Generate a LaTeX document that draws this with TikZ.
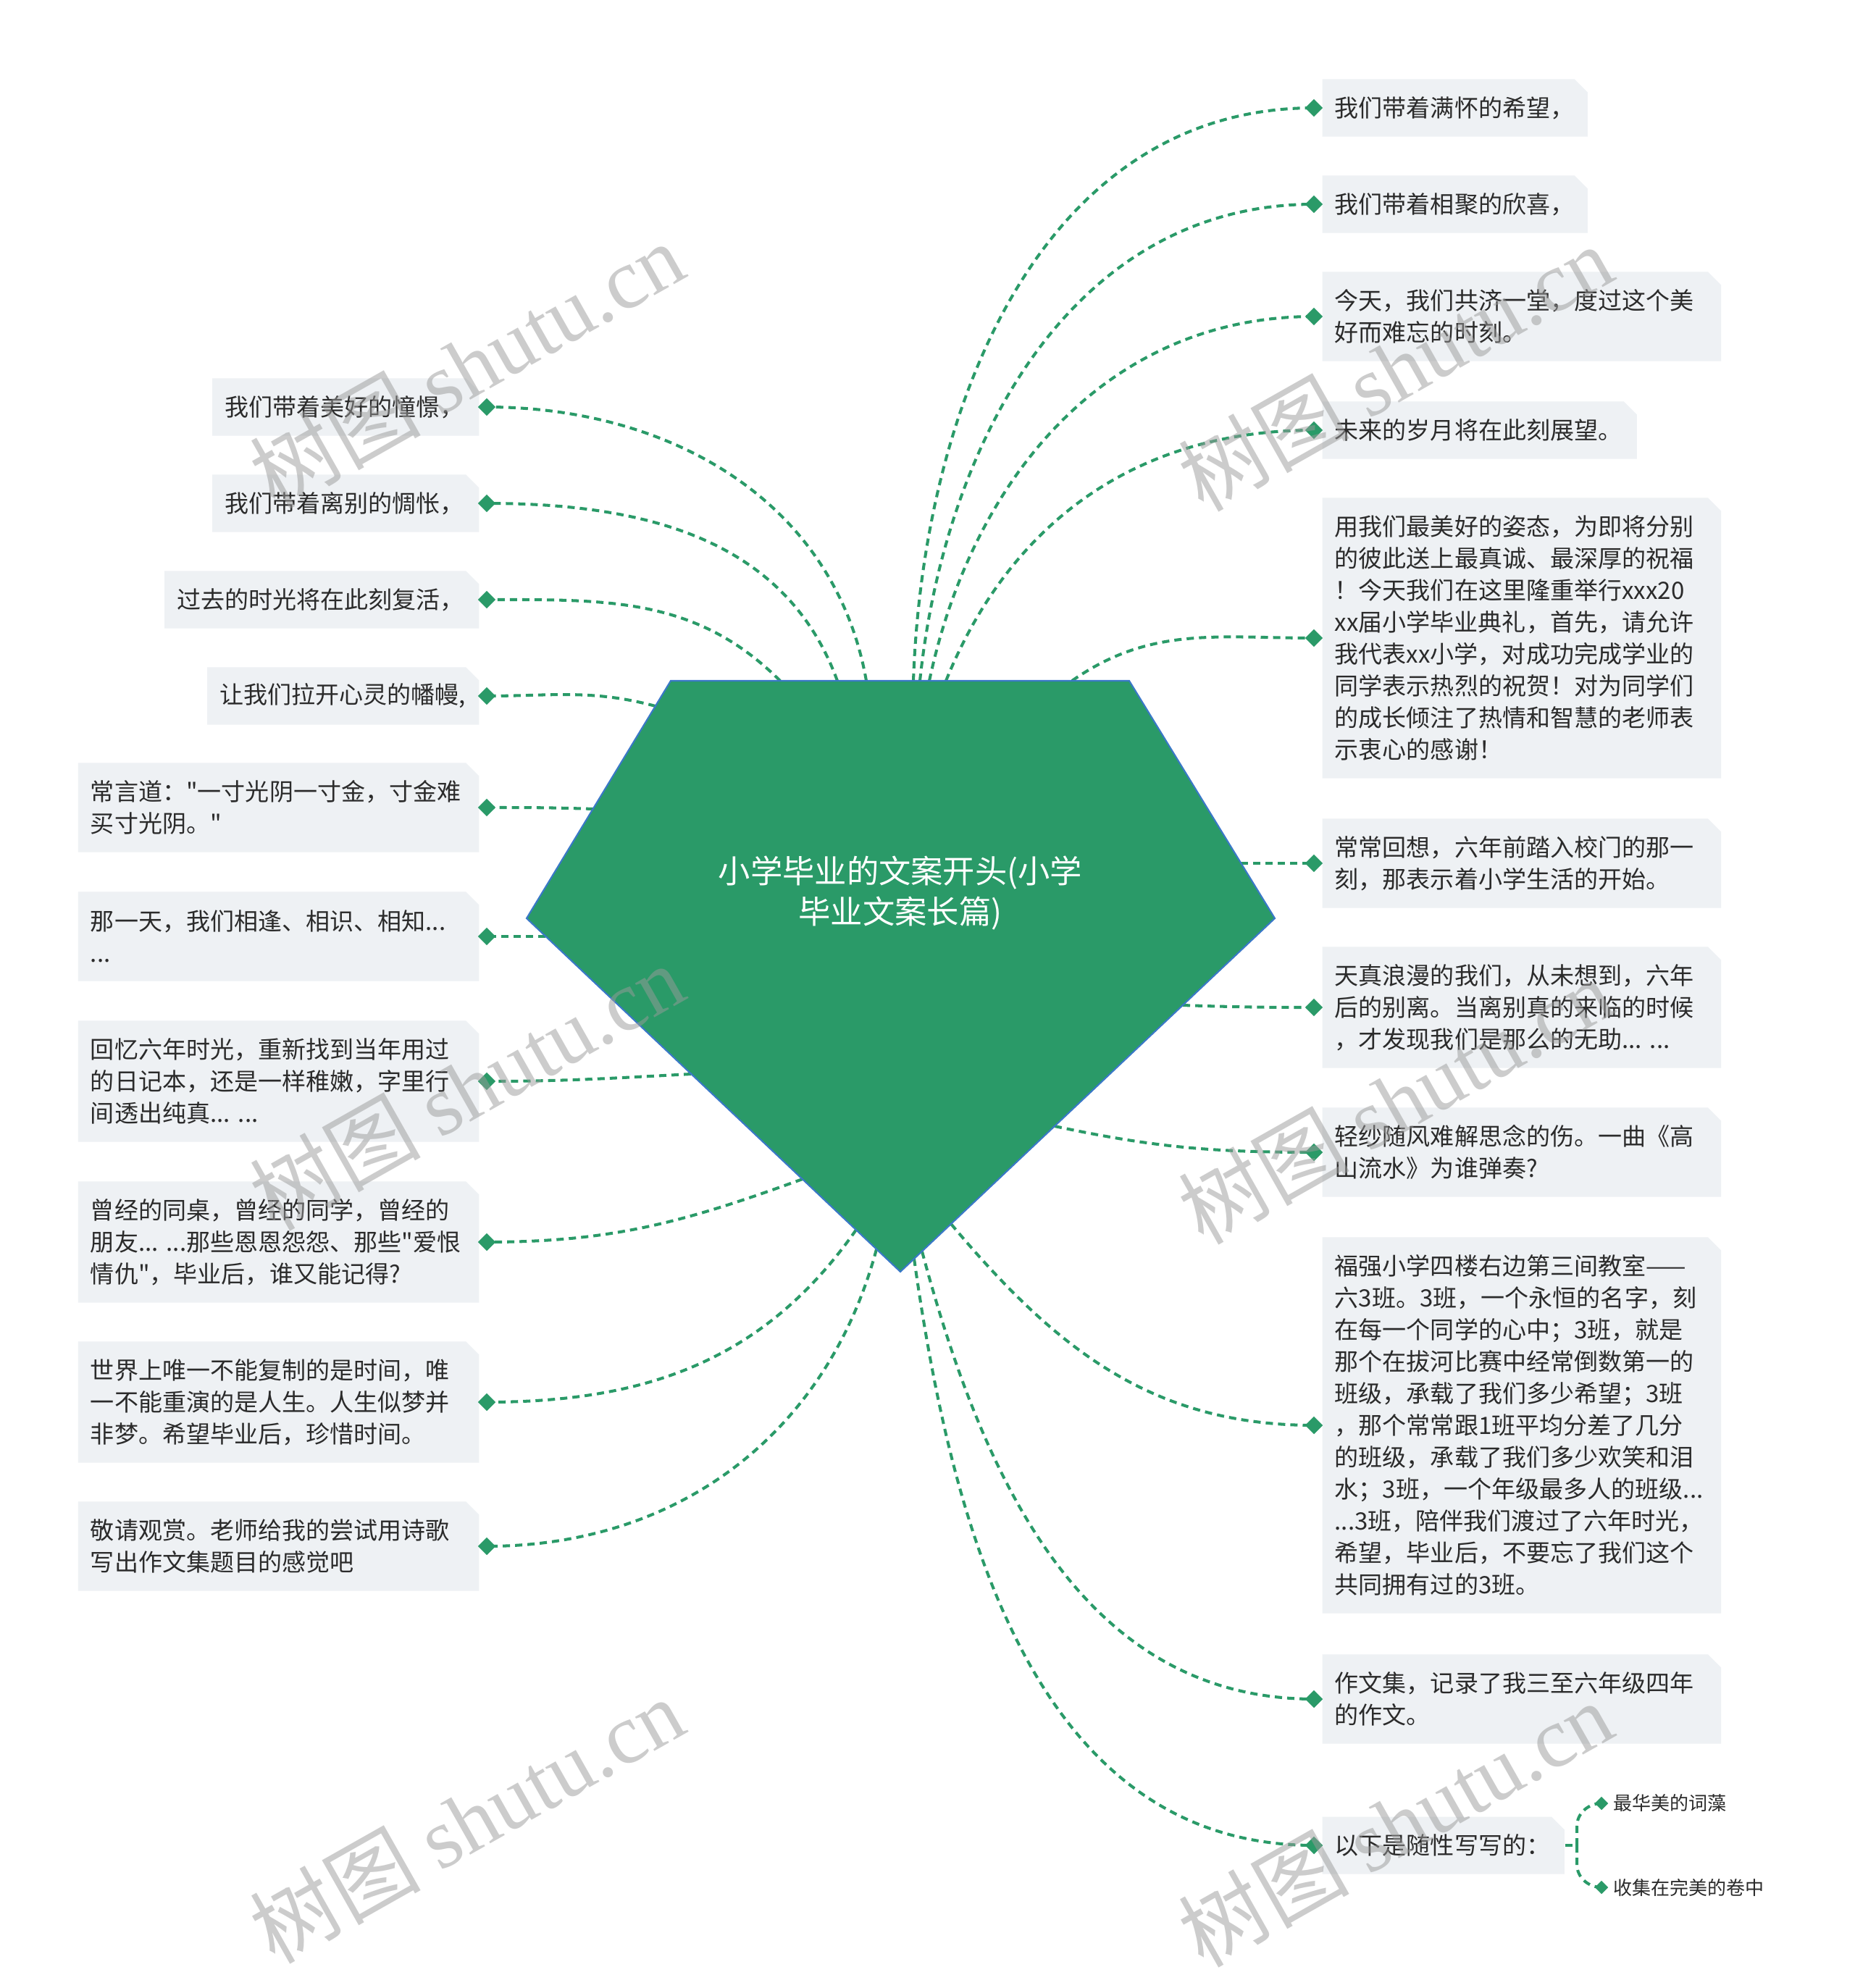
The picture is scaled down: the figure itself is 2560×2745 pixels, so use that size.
\documentclass[tikz,border=0pt]{standalone}
\usepackage{fontspec}
\setmainfont{Noto Sans CJK SC}[Ligatures=TeXOff]
\newfontfamily\wmlat{Liberation Serif}
\usetikzlibrary{shapes.geometric}
\definecolor{gr}{HTML}{2A9A68}
\definecolor{boxfill}{HTML}{EEF1F4}
\definecolor{txt}{HTML}{2B2B2B}
\definecolor{edgeblue}{HTML}{3A78C8}
\definecolor{wm}{HTML}{9A9A9A}
\newcommand{\bxf}{\fontsize{9.4pt}{12.5pt}\selectfont}
\newcommand{\rootf}{\fontsize{12.6pt}{16pt}\selectfont}
\newcommand{\mysubf}{\fontsize{7.4pt}{9pt}\selectfont}
\newcommand{\wmf}{\fontsize{33.5pt}{40pt}\selectfont}
\pgfdeclarelayer{bg}\pgfdeclarelayer{fg}\pgfsetlayers{bg,main,fg}
\begin{document}
\begin{tikzpicture}[x=0.01cm,y=-0.01cm,
  conn/.style={draw=gr, line width=1.15pt, dash pattern=on 2.85pt off 2pt},
  tb/.style n args={3}{anchor=#1, text width=#2cm, minimum height=#3cm,
    inner xsep=0.17cm, inner ysep=0pt, align=left, text=txt, font=\bxf,
    path picture={\fill[boxfill] (path picture bounding box.south west) -- (path picture bounding box.south east)
      -- ([yshift=-0.18cm]path picture bounding box.north east) -- ([xshift=-0.18cm]path picture bounding box.north east)
      -- (path picture bounding box.north west) -- cycle;}},
  diam/.style={diamond, fill=gr, inner sep=0pt, minimum size=0.25cm},
  sdiam/.style={diamond, fill=gr, inner sep=0pt, minimum size=0.19cm},
  wmark/.style={rotate=29.5, font=\wmf, text=wm, text opacity=0.5, inner sep=0pt}
]
\useasboundingbox (0,0) rectangle (2560,2745);
\begin{pgfonlayer}{bg}
\fill[white] (0,0) rectangle (2560,2745);
\end{pgfonlayer}

% central pentagon
\fill[gr] (926,940) -- (1559,940) -- (1760,1268) -- (1243,1756) -- (727,1268) -- cycle;
\draw[edgeblue, line width=0.6pt] (926,940) -- (1559,940) -- (1760,1268) -- (1243,1756) -- (727,1268) -- cycle;
\node[align=center, text=white, font=\rootf, inner sep=0pt] (root) at (1243,1233) {小学毕业的文案开头(小学\\毕业文案长篇)};

% exit points on the pentagon
\coordinate (eR1) at (1261,940);
\coordinate (eR2) at (1270,940);
\coordinate (eR3) at (1283,940);
\coordinate (eR4) at (1306,940);
\coordinate (eR5) at (1480,940);
\coordinate (eR6) at (1713,1192);
\coordinate (eR7) at (1633,1388);
\coordinate (eR8) at (1456,1555);
\coordinate (eR9) at (1313,1690);
\coordinate (eR10) at (1273,1728);
\coordinate (eR11) at (1262,1738);
\coordinate (eL1) at (1196,940);
\coordinate (eL2) at (1156,940);
\coordinate (eL3) at (1077,940);
\coordinate (eL4) at (905,975);
\coordinate (eL5) at (819,1117);
\coordinate (eL6) at (753,1293);
\coordinate (eL7) at (954,1483);
\coordinate (eL8) at (1108,1628);
\coordinate (eL9) at (1182,1698);
\coordinate (eL10) at (1210,1725);

% right nodes
\node[tb={west}{3.32}{0.79}] (R1) at (1825,149) {我们带着满怀的希望，};
\node[tb={west}{3.32}{0.79}] (R2) at (1825,282) {我们带着相聚的欣喜，};
\node[tb={west}{5.16}{1.23}] (R3) at (1825,437) {今天，我们共济一堂，度过这个美\\好而难忘的时刻。};
\node[tb={west}{4.0}{0.79}] (R4) at (1825,594) {未来的岁月将在此刻展望。};
\node[tb={west}{5.16}{3.87}] (R5) at (1825,881) {用我们最美好的姿态，为即将分别\\的彼此送上最真诚、最深厚的祝福\\！今天我们在这里隆重举行xxx20\\xx届小学毕业典礼，首先，请允许\\我代表xx小学，对成功完成学业的\\同学表示热烈的祝贺！对为同学们\\的成长倾注了热情和智慧的老师表\\示衷心的感谢！};
\node[tb={west}{5.16}{1.23}] (R6) at (1825,1192) {常常回想，六年前踏入校门的那一\\刻，那表示着小学生活的开始。};
\node[tb={west}{5.16}{1.67}] (R7) at (1825,1391) {天真浪漫的我们，从未想到，六年\\后的别离。当离别真的来临的时候\\，才发现我们是那么的无助...~...};
\node[tb={west}{5.16}{1.23}] (R8) at (1825,1591) {轻纱随风难解思念的伤。一曲《高\\山流水》为谁弹奏?};
\node[tb={west}{5.16}{5.19}] (R9) at (1825,1968) {福强小学四楼右边第三间教室——\\六3班。3班，一个永恒的名字，刻\\在每一个同学的心中；3班，就是\\那个在拔河比赛中经常倒数第一的\\班级，承载了我们多少希望；3班\\，那个常常跟1班平均分差了几分\\的班级，承载了我们多少欢笑和泪\\水；3班，一个年级最多人的班级...\\...3班，陪伴我们渡过了六年时光，\\希望，毕业后，不要忘了我们这个\\共同拥有过的3班。};
\node[tb={west}{5.16}{1.23}] (R10) at (1825,2346) {作文集，记录了我三至六年级四年\\的作文。};
\node[tb={west}{3.0}{0.79}] (R11) at (1825,2548) {以下是随性写写的：};

\foreach \n in {R1,R2,R3,R4,R5,R6,R7,R8,R9,R10,R11}
  \node[diam] (d\n) at ([xshift=-0.11cm]\n.west) {};

% left nodes
\node[tb={east}{3.34}{0.79}] (L1) at (662,562) {我们带着美好的憧憬，};
\node[tb={east}{3.34}{0.79}] (L2) at (662,695) {我们带着离别的惆怅，};
\node[tb={east}{4.0}{0.79}] (L3) at (662,828) {过去的时光将在此刻复活，};
\node[tb={east}{3.41}{0.79}] (L4) at (662,961) {让我们拉开心灵的幡幔,};
\node[tb={east}{5.19}{1.23}] (L5) at (662,1115) {常言道："一寸光阴一寸金，寸金难\\买寸光阴。"};
\node[tb={east}{5.19}{1.23}] (L6) at (662,1293) {那一天，我们相逢、相识、相知...\\...};
\node[tb={east}{5.19}{1.67}] (L7) at (662,1493) {回忆六年时光，重新找到当年用过\\的日记本，还是一样稚嫩，字里行\\间透出纯真...~...};
\node[tb={east}{5.19}{1.67}] (L8) at (662,1715) {曾经的同桌，曾经的同学，曾经的\\朋友...~...那些恩恩怨怨、那些"爱恨\\情仇"，毕业后，谁又能记得?};
\node[tb={east}{5.19}{1.67}] (L9) at (662,1936) {世界上唯一不能复制的是时间，唯\\一不能重演的是人生。人生似梦并\\非梦。希望毕业后，珍惜时间。};
\node[tb={east}{5.19}{1.23}] (L10) at (662,2135) {敬请观赏。老师给我的尝试用诗歌\\写出作文集题目的感觉吧};

\foreach \n in {L1,L2,L3,L4,L5,L6,L7,L8,L9,L10}
  \node[diam] (d\n) at ([xshift=0.1cm]\n.east) {};

% sub nodes of R11
\node[anchor=west, inner sep=0pt, font=\mysubf, text=txt] (S1) at (2227,2490) {最华美的词藻};
\node[anchor=west, inner sep=0pt, font=\mysubf, text=txt] (S2) at (2227,2606) {收集在完美的卷中};
\node[sdiam] (dS1) at ([xshift=-0.16cm]S1.west) {};
\node[sdiam] (dS2) at ([xshift=-0.16cm]S2.west) {};
\coordinate (bj) at (2177,2548);
\coordinate (bu) at (2177,2522);
\coordinate (bd) at (2177,2574);

\begin{pgfonlayer}{bg}
\draw[conn] (eR1) to[out=88,in=180] (dR1.center);
\draw[conn] (eR2) to[out=84,in=180] (dR2.center);
\draw[conn] (eR3) to[out=78,in=180] (dR3.center);
\draw[conn] (eR4) to[out=68,in=180] (dR4.center);
\draw[conn] (eR5) to[out=35,in=180] (dR5.center);
\draw[conn] (eR6) -- (dR6.center);
\draw[conn] (eR7) to[out=-2,in=180] (dR7.center);
\draw[conn] (eR8) to[out=-12,in=180] (dR8.center);
\draw[conn] (eR9) to[out=-50,in=180] (dR9.center);
\draw[conn] (eR10) to[out=-75,in=180] (dR10.center);
\draw[conn] (eR11) to[out=-82,in=180] (dR11.center);
\draw[conn] (eL1) to[out=100,in=0] (dL1.center);
\draw[conn] (eL2) to[out=110,in=0] (dL2.center);
\draw[conn] (eL3) to[out=135,in=0] (dL3.center);
\draw[conn] (eL4) to[out=165,in=0] (dL4.center);
\draw[conn] (eL5) to[out=178,in=0] (dL5.center);
\draw[conn] (eL6) -- (dL6.center);
\draw[conn] (eL7) to[out=183,in=0] (dL7.center);
\draw[conn] (eL8) to[out=200,in=0] (dL8.center);
\draw[conn] (eL9) to[out=235,in=0] (dL9.center);
\draw[conn] (eL10) to[out=255,in=0] (dL10.center);
\draw[conn] (R11.east) -- (bj);
\draw[conn] (bj) -- (bu) to[out=90,in=180] (dS1.center);
\draw[conn] (bj) -- (bd) to[out=-90,in=180] (dS2.center);
\end{pgfonlayer}

% watermarks
\begin{pgfonlayer}{fg}
\node[wmark] (w1) at (644,504) {树图 {\wmlat shutu.cn}};
\node[wmark] (w2) at (644,1501) {树图 {\wmlat shutu.cn}};
\node[wmark] (w3) at (644,2513) {树图 {\wmlat shutu.cn}};
\node[wmark] (w4) at (1926,508) {树图 {\wmlat shutu.cn}};
\node[wmark] (w5) at (1926,1520) {树图 {\wmlat shutu.cn}};
\node[wmark] (w6) at (1926,2518) {树图 {\wmlat shutu.cn}};
\end{pgfonlayer}
\end{tikzpicture}
\end{document}
